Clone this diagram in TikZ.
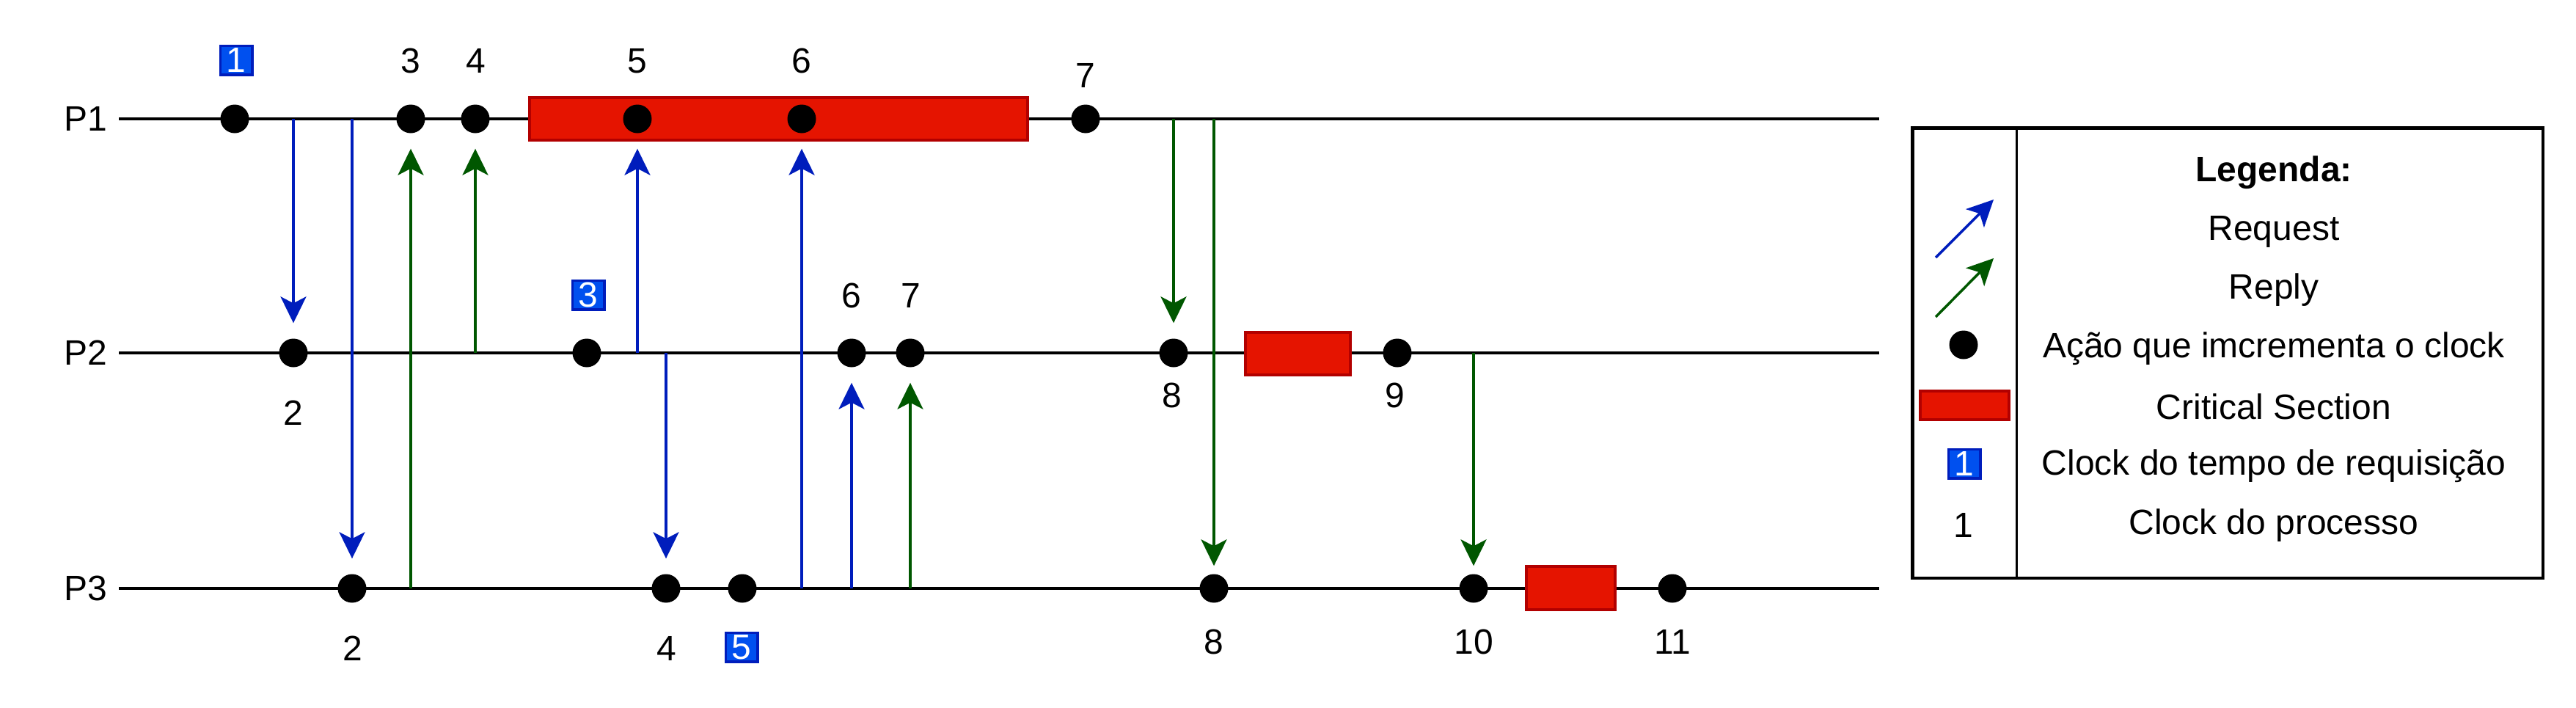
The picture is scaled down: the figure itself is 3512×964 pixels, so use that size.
\documentclass[tikz,border=0pt]{standalone}
\usepackage{fontspec}
\setmainfont{Liberation Sans}
\usetikzlibrary{arrows.meta}
\definecolor{reqblue}{HTML}{001DBC}
\definecolor{repgreen}{HTML}{005700}
\definecolor{csfill}{HTML}{E51400}
\definecolor{csdraw}{HTML}{B20000}
\definecolor{boxfill}{HTML}{0050EF}
\begin{document}
\begin{tikzpicture}[x=1pt,y=-1pt,
  font=\fontsize{48}{58}\selectfont,
  proc/.style={line width=4.5pt, draw=black},
  evdot/.style={circle, fill=black, inner sep=0pt, minimum size=39pt},
  csbox/.style={rectangle, fill=csfill, draw=csdraw, line width=4pt, inner sep=0pt},
  clk/.style={inner sep=0pt},
  reqclk/.style={rectangle, fill=boxfill, draw=reqblue, line width=3.5pt, text=white, inner sep=0pt, minimum width=43.5pt, minimum height=39.5pt},
  tipend/.style={-{Stealth[length=36pt,width=35pt,inset=9pt]}},
  req/.style={tipend, draw=reqblue, line width=3.5pt, shorten >=21pt},
  rep/.style={tipend, draw=repgreen, line width=3.5pt, shorten >=21pt},
]
\useasboundingbox (0,0) rectangle (3512,964);

% process labels
\node[clk] (p1) at (117,162) {P1};
\node[clk] (p2) at (117,481) {P2};
\node[clk] (p3) at (117,802) {P3};

% process lines
\coordinate (L1a) at (162,162); \coordinate (L1b) at (2562,162);
\coordinate (L2a) at (162,481); \coordinate (L2b) at (2562,481);
\coordinate (L3a) at (162,802); \coordinate (L3b) at (2562,802);
\draw[proc] (L1a) -- (L1b);
\draw[proc] (L2a) -- (L2b);
\draw[proc] (L3a) -- (L3b);

% critical sections
\node[csbox, minimum width=679pt, minimum height=58pt] (cs1) at (1061.5,162) {};
\node[csbox, minimum width=143pt, minimum height=58pt] (cs2) at (1769.5,482) {};
\node[csbox, minimum width=121pt, minimum height=59pt] (cs3) at (2141.5,801.5) {};

% event dots
\node[evdot] (d11) at (320,162) {};
\node[evdot] (d13) at (560,162) {};
\node[evdot] (d14) at (648,162) {};
\node[evdot] (d15) at (869,162) {};
\node[evdot] (d16) at (1093,162) {};
\node[evdot] (d17) at (1480,162) {};
\node[evdot] (d22) at (400,481) {};
\node[evdot] (d23) at (800,481) {};
\node[evdot] (d26) at (1161,481) {};
\node[evdot] (d27) at (1241,481) {};
\node[evdot] (d28) at (1600,481) {};
\node[evdot] (d29) at (1905,481) {};
\node[evdot] (d32) at (480,802) {};
\node[evdot] (d34) at (908,802) {};
\node[evdot] (d35) at (1012,802) {};
\node[evdot] (d38) at (1655,802) {};
\node[evdot] (d310) at (2009,802) {};
\node[evdot] (d311) at (2280,802) {};

% message sources
\coordinate (sa1) at (d22 |- L1a);
\coordinate (sa2) at (d32 |- L1a);
\coordinate (sa3) at (d15 |- L2a);
\coordinate (sa4) at (d34 |- L2a);
\coordinate (sa5) at (d16 |- L3a);
\coordinate (sa6) at (d26 |- L3a);
\coordinate (sg1) at (d13 |- L3a);
\coordinate (sg2) at (d14 |- L2a);
\coordinate (sg3) at (d27 |- L3a);
\coordinate (sg4) at (d28 |- L1a);
\coordinate (sg5) at (d38 |- L1a);
\coordinate (sg6) at (d310 |- L2a);

% requests
\draw[req] (sa1) -- (d22);
\draw[req] (sa2) -- (d32);
\draw[req] (sa3) -- (d15);
\draw[req] (sa4) -- (d34);
\draw[req] (sa5) -- (d16);
\draw[req] (sa6) -- (d26);
% replies
\draw[rep] (sg1) -- (d13);
\draw[rep] (sg2) -- (d14);
\draw[rep] (sg3) -- (d27);
\draw[rep] (sg4) -- (d28);
\draw[rep, shorten >=11pt] (sg5) -- (d38);
\draw[rep, shorten >=11pt] (sg6) -- (d310);

% clock labels P1
\node[reqclk] (r1) at (322,82) {1};
\node[clk] (c13) at (560,83) {3};
\node[clk] (c14) at (649,83) {4};
\node[clk] (c15) at (869,83) {5};
\node[clk] (c16) at (1093,83) {6};
\node[clk] (c17) at (1480,103) {7};
% P2
\node[clk] (c22) at (400,563) {2};
\node[reqclk] (r3) at (802,402) {3};
\node[clk] (c26) at (1161,403) {6};
\node[clk] (c27) at (1242,403) {7};
\node[clk] (c28) at (1598,539) {8};
\node[clk] (c29) at (1902,539) {9};
% P3
\node[clk] (c32) at (481,884) {2};
\node[clk] (c34) at (909,884) {4};
\node[reqclk] (r5) at (1011,882) {5};
\node[clk] (c38) at (1655,875) {8};
\node[clk] (c310) at (2009,875) {10};
\node[clk] (c311) at (2280,875) {11};

% legend
\node[draw=black, line width=4.5pt, inner sep=0pt, minimum width=859.5pt, minimum height=613.5pt] (legend) at (3037,481) {};
\coordinate (dv1) at (2749,177); \coordinate (dv2) at (2749,790);
\draw[line width=3pt] (dv1) -- (dv2);
\node[clk, font=\fontsize{48}{58}\selectfont\bfseries] (lt0) at (3100,235) {Legenda:};
\node[clk] (lt1) at (3100,316) {Request};
\node[clk] (lt2) at (3100,395) {Reply};
\node[clk] (lt3) at (3100,475) {Ação que imcrementa o clock};
\node[clk] (lt4) at (3100,554) {Critical Section};
\node[clk] (lt5) at (3100,635) {Clock do tempo de requisição};
\node[clk] (lt6) at (3100,716) {Clock do processo};
\coordinate (lra) at (2639,351); \coordinate (lrb) at (2718,272);
\coordinate (lga) at (2639,432); \coordinate (lgb) at (2718,352);
\draw[req, shorten >=0pt] (lra) -- (lrb);
\draw[rep, shorten >=0pt] (lga) -- (lgb);
\node[evdot] (ld) at (2677,470) {};
\node[csbox, minimum width=121pt, minimum height=39pt] (lcs) at (2678.5,552.5) {};
\node[reqclk] (lr) at (2678,632) {1};
\node[clk] (lc) at (2677,716) {1};
\end{tikzpicture}
\end{document}
